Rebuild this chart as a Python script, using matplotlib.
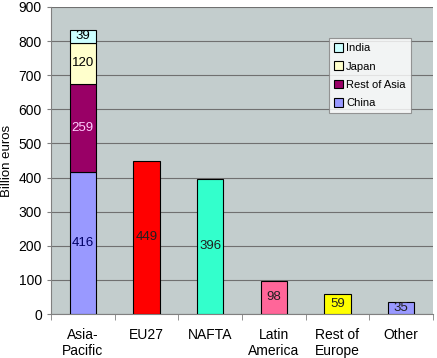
import matplotlib.pyplot as plt
import numpy as np

categories = ["Asia-\nPacific", "EU27", "NAFTA", "Latin\nAmerica", "Rest of\nEurope", "Other"]
totals = [None, 449, 396, 98, 59, 35]
total_colors = ["", "#FF0000", "#33FFCC", "#FF6699", "#FFFF00", "#9999FF"]

asia_parts = ["China", "Rest of Asia", "Japan", "India"]
asia_values = [416, 259, 120, 39]
asia_colors = ["#9999FF", "#990066", "#FFFFCC", "#CCFFFF"]
asia_text = ["#000066", "#FFCCFF", "#000000", "#000000"]

plt.rcParams["font.family"] = ["Liberation Sans", "DejaVu Sans"]

fig = plt.figure(figsize=(4.37, 3.58), dpi=100)
ax = fig.add_axes([51 / 437, 1 - 314 / 358, 382 / 437, 307 / 358])
ax.set_facecolor("#C3CDCD")

x = np.arange(len(categories))
width = 0.41

bottom = 0
handles = []
for name, val, col, tc in zip(asia_parts, asia_values, asia_colors, asia_text):
    h = ax.bar(x[0], val, width, bottom=bottom, color=col, edgecolor="black",
               linewidth=0.8, label=name, zorder=3)
    handles.append(h)
    ax.text(x[0], bottom + val / 2, str(val), ha="center", va="center",
            fontsize=9.5, color=tc, zorder=4)
    bottom += val

for i in range(1, len(categories)):
    ax.bar(x[i], totals[i], width, color=total_colors[i], edgecolor="black",
           linewidth=0.8, zorder=3)
    ax.text(x[i], totals[i] / 2, str(totals[i]), ha="center", va="center",
            fontsize=9.5, color="#202020", zorder=4)

ax.set_xlim(-0.5, len(categories) - 0.5)
ax.set_ylim(0, 900)
ax.set_yticks(range(0, 901, 100))
ax.tick_params(axis="y", labelsize=10, length=3, color="#808080")
ax.set_xticks(x)
ax.set_xticklabels(categories, fontsize=10)
ax.set_xticks(np.arange(-0.5, len(categories)), minor=True)
ax.tick_params(axis="x", which="major", length=0, pad=10)
ax.tick_params(axis="x", which="minor", length=4, color="#808080")
ax.grid(axis="y", color="#707070", linewidth=0.8, zorder=1)
ax.set_ylabel("Billion euros", fontsize=9.5)
for s in ["top", "right"]:
    ax.spines[s].set_visible(False)
ax.spines["left"].set_color("#808080")
ax.spines["bottom"].set_color("#808080")

leg = ax.legend(handles[::-1], asia_parts[::-1], loc="upper left",
                bbox_to_anchor=(278 / 382, 1 - 31 / 307), fontsize=8,
                frameon=True, fancybox=False, edgecolor="#808080",
                handlelength=0.8, handleheight=0.8, handletextpad=0.3,
                borderpad=0.45, labelspacing=0.75, borderaxespad=0)
leg.get_frame().set_linewidth(0.8)

fig.savefig("out.png", dpi=100)
